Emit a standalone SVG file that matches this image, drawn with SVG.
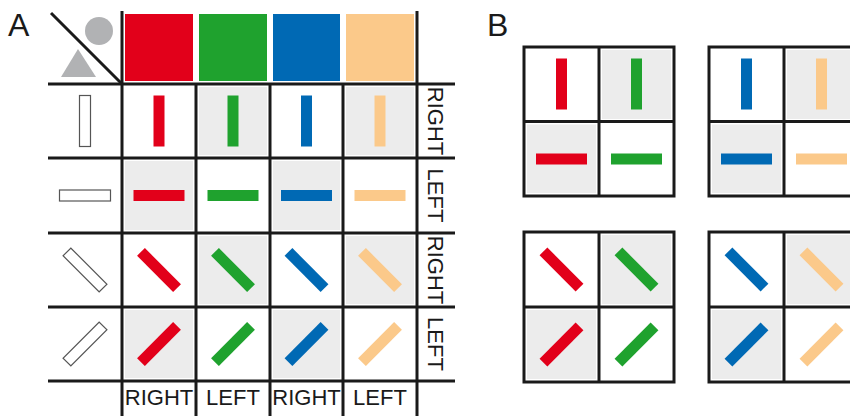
<svg xmlns="http://www.w3.org/2000/svg" xmlns:xlink="http://www.w3.org/1999/xlink" width="850" height="416" viewBox="0 0 850 416">
<style>
.ln{stroke:#1a1a1a;stroke-width:3;fill:none}
.g{fill:#ececec}
.lbl{font-family:"Liberation Sans",Arial,sans-serif;font-size:22px;fill:#1a1a1a;text-anchor:middle}
.big{font-family:"Liberation Sans",Arial,sans-serif;font-size:32px;fill:#1a1a1a}
.r{fill:#e2001a}.gr{fill:#1fa22e}.b{fill:#0069b4}.o{fill:#fbc98a}
.out{fill:#fff;stroke:#555;stroke-width:1.2}
</style>
<defs>
<rect id="bar" x="-5.5" y="-25.5" width="11" height="51"/>
</defs>
<rect width="850" height="416" fill="#fff"/>
<text class="big" x="8" y="36">A</text>
<text class="big" x="487" y="36">B</text>

<g id="panelA-header">
<line class="ln" x1="51" y1="13" x2="121" y2="83"/>
<circle cx="99" cy="31" r="14" fill="#b1b2b4"/>
<polygon points="78,49 61,77 96,77" fill="#b1b2b4"/>
<rect class="r" x="125" y="14" width="68" height="67"/>
<rect class="gr" x="199" y="14" width="68" height="67"/>
<rect class="b" x="273" y="14" width="67" height="67"/>
<rect class="o" x="346" y="14" width="68" height="67"/>
</g>

<g id="panelA-shading">
<rect class="g" x="199" y="87" width="68" height="68"/>
<rect class="g" x="346" y="87" width="68" height="68"/>
<rect class="g" x="125" y="161" width="68" height="69"/>
<rect class="g" x="273" y="161" width="67" height="69"/>
<rect class="g" x="199" y="236" width="68" height="68"/>
<rect class="g" x="346" y="236" width="68" height="68"/>
<rect class="g" x="125" y="310" width="68" height="68"/>
<rect class="g" x="273" y="310" width="67" height="68"/>
</g>

<g id="panelA-grid">
<line class="ln" x1="48" y1="84" x2="455" y2="84"/>
<line class="ln" x1="48" y1="158" x2="455" y2="158"/>
<line class="ln" x1="48" y1="233" x2="455" y2="233"/>
<line class="ln" x1="48" y1="307" x2="455" y2="307"/>
<line class="ln" x1="48" y1="381" x2="455" y2="381"/>
<line class="ln" x1="122" y1="11" x2="122" y2="416"/>
<line class="ln" x1="196" y1="84" x2="196" y2="416"/>
<line class="ln" x1="270" y1="84" x2="270" y2="416"/>
<line class="ln" x1="343" y1="84" x2="343" y2="416"/>
<line class="ln" x1="417" y1="11" x2="417" y2="416"/>
</g>

<g id="panelA-outlines">
<use xlink:href="#bar" class="out" transform="translate(85,121)"/>
<use xlink:href="#bar" class="out" transform="translate(85,195.5) rotate(90)"/>
<use xlink:href="#bar" class="out" transform="translate(85,270) rotate(-45)"/>
<use xlink:href="#bar" class="out" transform="translate(85,344) rotate(45)"/>
</g>

<g id="panelA-bars">
<use xlink:href="#bar" class="r" transform="translate(159,121)"/>
<use xlink:href="#bar" class="gr" transform="translate(233,121)"/>
<use xlink:href="#bar" class="b" transform="translate(306.5,121)"/>
<use xlink:href="#bar" class="o" transform="translate(380,121)"/>
<use xlink:href="#bar" class="r" transform="translate(159,195.5) rotate(90)"/>
<use xlink:href="#bar" class="gr" transform="translate(233,195.5) rotate(90)"/>
<use xlink:href="#bar" class="b" transform="translate(306.5,195.5) rotate(90)"/>
<use xlink:href="#bar" class="o" transform="translate(380,195.5) rotate(90)"/>
<use xlink:href="#bar" class="r" transform="translate(159,270) rotate(-45)"/>
<use xlink:href="#bar" class="gr" transform="translate(233,270) rotate(-45)"/>
<use xlink:href="#bar" class="b" transform="translate(306.5,270) rotate(-45)"/>
<use xlink:href="#bar" class="o" transform="translate(380,270) rotate(-45)"/>
<use xlink:href="#bar" class="r" transform="translate(159,344) rotate(45)"/>
<use xlink:href="#bar" class="gr" transform="translate(233,344) rotate(45)"/>
<use xlink:href="#bar" class="b" transform="translate(306.5,344) rotate(45)"/>
<use xlink:href="#bar" class="o" transform="translate(380,344) rotate(45)"/>
</g>

<g id="panelA-labels">
<text class="lbl" transform="translate(428,121) rotate(90)">RIGHT</text>
<text class="lbl" transform="translate(428,195.5) rotate(90)">LEFT</text>
<text class="lbl" transform="translate(428,270) rotate(90)">RIGHT</text>
<text class="lbl" transform="translate(428,344) rotate(90)">LEFT</text>
<text class="lbl" x="159" y="405">RIGHT</text>
<text class="lbl" x="233" y="405">LEFT</text>
<text class="lbl" x="306.5" y="405">RIGHT</text>
<text class="lbl" x="380" y="405">LEFT</text>
</g>

<g id="panelB-TL">
<rect class="g" x="602" y="50" width="69" height="69"/>
<rect class="g" x="527" y="124.5" width="69" height="68.5"/>
<rect class="ln" x="524" y="47" width="150" height="149"/>
<line class="ln" x1="599" y1="47" x2="599" y2="196"/>
<line class="ln" x1="524" y1="121.5" x2="674" y2="121.5"/>
<use xlink:href="#bar" class="r" transform="translate(561.5,84)"/>
<use xlink:href="#bar" class="gr" transform="translate(636.5,84)"/>
<use xlink:href="#bar" class="r" transform="translate(561.5,159) rotate(90)"/>
<use xlink:href="#bar" class="gr" transform="translate(636.5,159) rotate(90)"/>
</g>

<g id="panelB-TR">
<rect class="g" x="787" y="50" width="69" height="69"/>
<rect class="g" x="712" y="124.5" width="69" height="68.5"/>
<rect class="ln" x="709" y="47" width="150" height="149"/>
<line class="ln" x1="784" y1="47" x2="784" y2="196"/>
<line class="ln" x1="709" y1="121.5" x2="859" y2="121.5"/>
<use xlink:href="#bar" class="b" transform="translate(746.5,84)"/>
<use xlink:href="#bar" class="o" transform="translate(821.5,84)"/>
<use xlink:href="#bar" class="b" transform="translate(746.5,159) rotate(90)"/>
<use xlink:href="#bar" class="o" transform="translate(821.5,159) rotate(90)"/>
</g>

<g id="panelB-BL">
<rect class="g" x="602" y="235" width="69" height="69"/>
<rect class="g" x="527" y="310" width="69" height="69"/>
<rect class="ln" x="524" y="232" width="150" height="150"/>
<line class="ln" x1="599" y1="232" x2="599" y2="382"/>
<line class="ln" x1="524" y1="307" x2="674" y2="307"/>
<use xlink:href="#bar" class="r" transform="translate(561.5,269.5) rotate(-45)"/>
<use xlink:href="#bar" class="gr" transform="translate(636.5,269.5) rotate(-45)"/>
<use xlink:href="#bar" class="r" transform="translate(561.5,344.5) rotate(45)"/>
<use xlink:href="#bar" class="gr" transform="translate(636.5,344.5) rotate(45)"/>
</g>

<g id="panelB-BR">
<rect class="g" x="787" y="235" width="69" height="69"/>
<rect class="g" x="712" y="310" width="69" height="69"/>
<rect class="ln" x="709" y="232" width="150" height="150"/>
<line class="ln" x1="784" y1="232" x2="784" y2="382"/>
<line class="ln" x1="709" y1="307" x2="859" y2="307"/>
<use xlink:href="#bar" class="b" transform="translate(746.5,269.5) rotate(-45)"/>
<use xlink:href="#bar" class="o" transform="translate(821.5,269.5) rotate(-45)"/>
<use xlink:href="#bar" class="b" transform="translate(746.5,344.5) rotate(45)"/>
<use xlink:href="#bar" class="o" transform="translate(821.5,344.5) rotate(45)"/>
</g>

<g id="connectors"></g>
</svg>
